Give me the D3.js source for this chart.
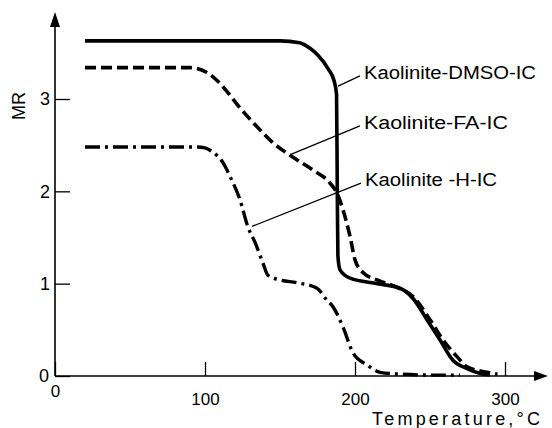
<!DOCTYPE html>
<html>
<head>
<meta charset="utf-8">
<script src="https://cdn.jsdelivr.net/npm/d3@7"></script>
<style>
  body { margin: 0; background: #fff; }
  svg text { font-family: "Liberation Sans", Arial, sans-serif; fill: #000; }
</style>
</head>
<body>
<div id="chart"></div>
<script>
// tick values
const xTicks = [0, 100, 200, 300];
const yTicks = [0, 1, 2, 3];

// series: [temperature, MR]
const dmso = [[20, 3.63], [100, 3.63], [150, 3.63], [163, 3.61], [170, 3.55], [175, 3.48],
  [182, 3.33], [186, 3.2], [187.7, 3.05], [188.2, 2.0], [188.6, 1.3], [190, 1.15],
  [196.7, 1.06], [215, 1.0], [230, 0.95], [238.7, 0.84], [248, 0.61], [256.7, 0.39],
  [265.3, 0.17], [274.7, 0.08], [283, 0.03], [290, 0.01]];
const fa = [[20, 3.34], [90, 3.34], [101, 3.29], [108, 3.2], [114.7, 3.08], [123, 2.91],
  [134.7, 2.7], [145, 2.53], [156.7, 2.39], [172, 2.23], [183.3, 2.09], [188, 1.98],
  [192, 1.8], [196.7, 1.51], [200, 1.26], [205.3, 1.12], [214.7, 1.04], [228, 0.96],
  [238.7, 0.86], [250, 0.61], [258.7, 0.39], [268, 0.21], [274.7, 0.1], [288, 0.04], [295, 0.02]];
const hic = [[20, 2.48], [95, 2.48], [100, 2.47], [104.7, 2.43], [112, 2.31], [116.7, 2.16],
  [123.3, 1.91], [128.7, 1.61], [133.3, 1.45], [138.7, 1.22], [142, 1.09], [150, 1.04],
  [161.3, 1.01], [174.7, 0.95], [181.3, 0.82], [185.3, 0.75], [192, 0.53], [198.7, 0.25],
  [208, 0.12], [216.7, 0.04], [230, 0.02], [250, 0.01], [270, 0.01]];

// labels with their leader lines (from point on curve to label)
const labels = ["Kaolinite-DMSO-IC", "Kaolinite-FA-IC", "Kaolinite -H-IC"];
const leaderFrom = [[188.7, 3.14], [157.3, 2.4], [131.3, 1.62]];
const leaderTo = [[203.3, 3.25], [203.3, 2.71], [204, 2.09]];
const labelWidths = [172, 144, 132];

const width = 552, height = 428;

const svg = d3.select("#chart").append("svg")
  .attr("width", width)
  .attr("height", height);

const x = d3.scaleLinear().domain([0, 300]).range([55, 505]);
const y = d3.scaleLinear().domain([0, 3]).range([376, 99]);

// axes: ticks point into the plot
const xAxis = svg.append("g")
  .attr("transform", `translate(0,${y(0)})`)
  .call(d3.axisBottom(x).tickValues(xTicks).tickFormat(d3.format("d"))
    .tickSizeInner(-14).tickSizeOuter(0).tickPadding(17));
const yAxis = svg.append("g")
  .attr("transform", `translate(${x(0)},0)`)
  .call(d3.axisLeft(y).tickValues(yTicks).tickFormat(d3.format("d"))
    .tickSizeInner(-15).tickSizeOuter(0).tickPadding(5));

[xAxis, yAxis].forEach(a => {
  a.select(".domain").remove();
  a.selectAll(".tick line").attr("stroke", "#000").attr("stroke-width", 1.3);
  a.selectAll(".tick text").attr("font-size", 18).attr("fill", "#000")
    .style("font-family", "'Liberation Sans', Arial, sans-serif");
});
xAxis.selectAll(".tick text").attr("font-size", 17);
xAxis.selectAll(".tick").filter(d => d === 0).select("text").attr("y", 9);
yAxis.selectAll(".tick").filter(d => d === 0).select("text").attr("x", -6);

// axis lines with arrowheads
svg.append("line")
  .attr("x1", x(0)).attr("y1", y(0)).attr("x2", x(0)).attr("y2", 20)
  .attr("stroke", "#000").attr("stroke-width", 1.6);
svg.append("path")
  .attr("d", `M${x(0)},12 L${x(0) - 5},27 L${x(0) + 5},27 Z`)
  .attr("fill", "#000");
svg.append("line")
  .attr("x1", x(0)).attr("y1", y(0)).attr("x2", 540).attr("y2", y(0))
  .attr("stroke", "#000").attr("stroke-width", 1.6);
svg.append("path")
  .attr("d", `M548,${y(0)} L534,${y(0) - 5} L534,${y(0) + 5} Z`)
  .attr("fill", "#000");

// axis titles
svg.append("text")
  .attr("transform", "translate(25,106) rotate(-90)")
  .attr("text-anchor", "middle")
  .attr("font-size", 18)
  .text("MR");
svg.append("text")
  .attr("x", 372).attr("y", 425)
  .attr("font-size", 18)
  .attr("textLength", 168)
  .attr("lengthAdjust", "spacing")
  .text("Temperature,°C");

// curves
const line = d3.line()
  .x(d => x(d[0]))
  .y(d => y(d[1]))
  .curve(d3.curveMonotoneX);

svg.append("path").datum(dmso)
  .attr("d", line)
  .attr("fill", "none").attr("stroke", "#000").attr("stroke-width", 3.6);
svg.append("path").datum(fa)
  .attr("d", line)
  .attr("fill", "none").attr("stroke", "#000").attr("stroke-width", 3.6)
  .attr("stroke-dasharray", "11,5");
svg.append("path").datum(hic)
  .attr("d", line)
  .attr("fill", "none").attr("stroke", "#000").attr("stroke-width", 3.4)
  .attr("stroke-dasharray", "15,5,3,5");

// leader lines and labels
labels.forEach((t, i) => {
  svg.append("line")
    .attr("x1", x(leaderFrom[i][0])).attr("y1", y(leaderFrom[i][1]))
    .attr("x2", x(leaderTo[i][0])).attr("y2", y(leaderTo[i][1]))
    .attr("stroke", "#000").attr("stroke-width", 1.3);
  svg.append("text")
    .attr("x", x(leaderTo[i][0]) + 4)
    .attr("y", y(leaderTo[i][1]) + 3)
    .attr("font-size", 18)
    .attr("textLength", labelWidths[i])
    .attr("lengthAdjust", "spacingAndGlyphs")
    .text(t);
});
</script>
</body>
</html>
